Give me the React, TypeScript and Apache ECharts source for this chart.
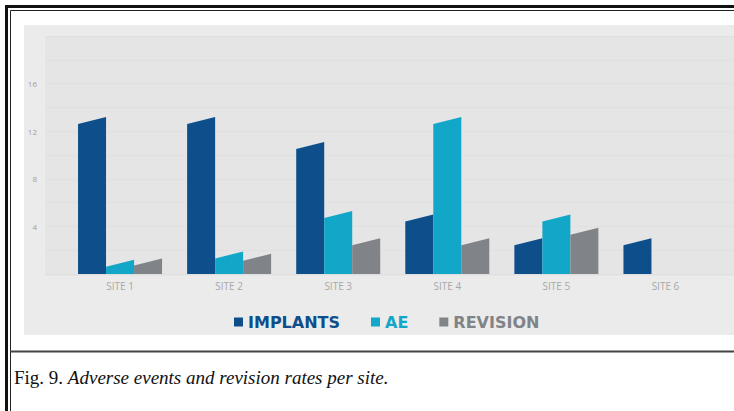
import React, { useEffect, useRef } from "react";
import * as echarts from "echarts";

const sites = ["SITE 1", "SITE 2", "SITE 3", "SITE 4", "SITE 5", "SITE 6"];
const implants = [12.9, 12.9, 10.8, 4.7, 2.7, 2.7];
const adverseEvents = [0.9, 1.6, 5.0, 12.9, 4.7, null];
const revisions = [1.0, 1.4, 2.7, 2.7, 3.6, null];
const yTicks = [4, 8, 12, 16];

const seriesNames = ["IMPLANTS", "AE", "REVISION"];
const seriesColors = ["#0d4e8b", "#12a7c9", "#808488"];

const BAR_W = 28;
const SLANT = 7;

function makeRender(offsetIndex: number) {
  return (params: any, api: any) => {
    const v = api.value(1);
    if (v == null || isNaN(v)) return null;
    const top = api.coord([api.value(0), v]);
    const base = api.coord([api.value(0), 0]);
    const cx = top[0] + (offsetIndex - 1) * BAR_W;
    const x0 = cx - BAR_W / 2;
    const x1 = cx + BAR_W / 2;
    return {
      type: "polygon",
      shape: {
        points: [
          [x0, base[1]],
          [x0, top[1] + SLANT / 2],
          [x1, top[1] - SLANT / 2],
          [x1, base[1]],
        ],
      },
      style: { fill: seriesColors[offsetIndex] },
    };
  };
}

export default function App() {
  const ref = useRef<HTMLDivElement>(null);

  useEffect(() => {
    if (!ref.current) return;
    const chart = echarts.init(ref.current, null, { renderer: "svg" });
    const seriesData = [implants, adverseEvents, revisions];

    chart.setOption({
      animation: false,
      backgroundColor: "#ffffff",
      graphic: [
        { type: "rect", z: -10, shape: { x: 24, y: 25, width: 710, height: 310 }, style: { fill: "#ebebeb" } },
        { type: "rect", z: -9, shape: { x: 45, y: 36, width: 689, height: 240 }, style: { fill: "#e5e5e5" } },
        // frame
        { type: "rect", shape: { x: 5, y: 5, width: 740, height: 3 }, style: { fill: "#111" } },
        { type: "rect", shape: { x: 5, y: 5, width: 3, height: 420 }, style: { fill: "#111" } },
        { type: "line", shape: { x1: 10.5, y1: 10.5, x2: 734, y2: 10.5 }, style: { stroke: "#222", lineWidth: 1 } },
        { type: "line", shape: { x1: 10.5, y1: 10.5, x2: 10.5, y2: 411 }, style: { stroke: "#222", lineWidth: 1 } },
        { type: "rect", shape: { x: 10, y: 350.5, width: 724, height: 2 }, style: { fill: "#444" } },
        {
          type: "text",
          x: 14,
          y: 377,
          style: {
            text: "{a|Fig. 9. }{b|Adverse events and revision rates per site.}",
            verticalAlign: "middle",
            rich: {
              a: { fontFamily: "Liberation Serif", fontSize: 19, fill: "#111" },
              b: { fontFamily: "Liberation Serif", fontSize: 19, fontStyle: "italic", fill: "#111" },
            },
          },
        },
      ],
      legend: {
        left: 229,
        top: 309,
        icon: "rect",
        itemWidth: 9,
        itemHeight: 9,
        itemGap: 31,
        textStyle: { fontFamily: "DejaVu Sans", fontWeight: "bold", fontSize: 16 },
        data: seriesNames.map((n, i) => ({ name: n, textStyle: { color: seriesColors[i] } })),
      },
      grid: [
        { left: 45, right: 0, top: 36, bottom: 137 },
        { left: 65.5, right: 14, top: 36, bottom: 137 },
      ],
      xAxis: [
        { gridIndex: 0, type: "value", show: false, min: 0, max: 1 },
        {
          gridIndex: 1,
          type: "category",
          data: sites,
          axisLine: { show: false },
          axisTick: { show: false },
          axisLabel: { color: "#a8a8a8", fontSize: 10, fontFamily: "Open Sans", margin: 7 },
        },
      ],
      yAxis: [
        {
          gridIndex: 0,
          type: "value",
          min: 0,
          max: 20,
          interval: 2,
          axisLine: { show: false },
          axisTick: { show: false },
          splitLine: { lineStyle: { color: "#e0e0e0", width: 1 } },
          axisLabel: {
            color: "#a0a0a0",
            fontSize: 8,
            fontFamily: "Open Sans",
            margin: 8,
            formatter: (v: number) => (yTicks.includes(v) ? String(v) : ""),
          },
        },
        { gridIndex: 1, type: "value", min: 0, max: 20, show: false },
      ],
      series: seriesNames.map((name, i) => ({
        name,
        type: "custom",
        xAxisIndex: 1,
        yAxisIndex: 1,
        itemStyle: { color: seriesColors[i] },
        renderItem: makeRender(i),
        encode: { x: 0, y: 1 },
        data: seriesData[i].map((v, k) => [k, v]),
      })),
    });

    return () => chart.dispose();
  }, []);

  return (
    <div
      ref={ref}
      style={{ position: "fixed", left: 0, top: 0, width: 734, height: 411 }}
    />
  );
}
